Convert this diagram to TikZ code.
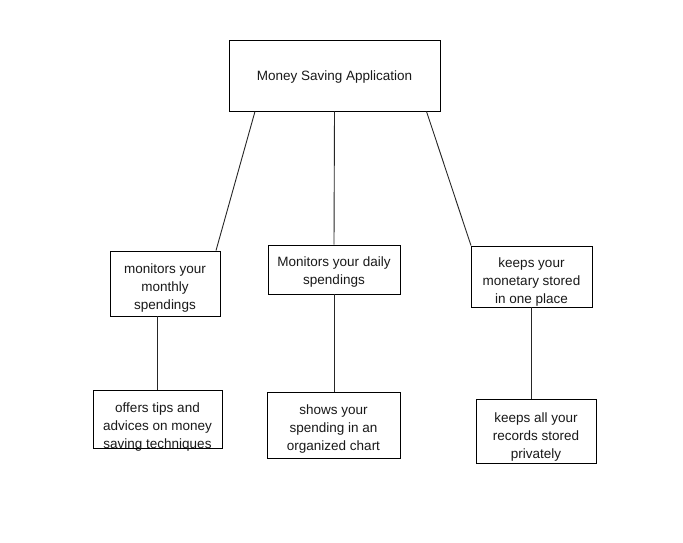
\documentclass[tikz,border=0pt]{standalone}
\usepackage{fontspec}
\setmainfont{Liberation Sans}
\begin{document}
\begin{tikzpicture}[x=1pt,y=-1pt,
  box/.style={draw=black,line width=0.9pt,fill=white,inner sep=0pt},
  txt/.style={align=center,text=black!90,font=\fontsize{13.5}{18}\selectfont,inner sep=0pt,yshift=-2pt},
  link/.style={draw=black!85,line width=0.9pt}]
\useasboundingbox[fill=white] (0,0) rectangle (683,543);
% boxes
\node[box,minimum width=211pt,minimum height=71pt] (top) at (334.5,75.5) {};
\node[box,minimum width=110pt,minimum height=65pt] (L1) at (165,283.5) {};
\node[box,minimum width=132pt,minimum height=49pt] (M1) at (334,269.5) {};
\node[box,minimum width=121pt,minimum height=61pt] (R1) at (531.5,276.5) {};
\node[box,minimum width=129pt,minimum height=58pt] (L2) at (157.5,419) {};
\node[box,minimum width=133pt,minimum height=66pt] (M2) at (333.5,425) {};
\node[box,minimum width=120pt,minimum height=64pt] (R2) at (536,431.5) {};
% texts
\node[txt] (topt) at (334.5,75.5) {Money Saving Application};
\node[txt] (L1t) at (165,286) {monitors your\\monthly\\spendings};
\node[txt] (M1t) at (334,270.5) {Monitors your daily\\spendings};
\node[txt] (R1t) at (531.5,280) {keeps your\\monetary stored\\in one place};
\node[txt] (L2t) at (157.5,425) {offers tips and\\advices on money\\saving techniques};
\node[txt] (M2t) at (333.5,427) {shows your\\spending in an\\organized chart};
\node[txt] (R2t) at (536,435) {keeps all your\\records stored\\privately};
% connectors
\coordinate (a1) at ([xshift=-79.5pt]top.south);
\coordinate (a2) at ([xshift=51pt]L1.north);
\coordinate (b1) at ([xshift=92pt]top.south);
\coordinate (b2) at ([xshift=-60.5pt]R1.north);
\draw[link] (a1) -- (a2);
\draw[link] (top.south) -- (M1.north);
\draw[link] (b1) -- (b2);
\draw[link] (L1.south -| L2.north) -- (L2.north);
\draw[link] (M1.south) -- (M1.south |- M2.north);
\draw[link] ([xshift=-0.5pt]R1.south) -- ([xshift=-0.5pt]R1.south |- R2.north);
\end{tikzpicture}
\end{document}
